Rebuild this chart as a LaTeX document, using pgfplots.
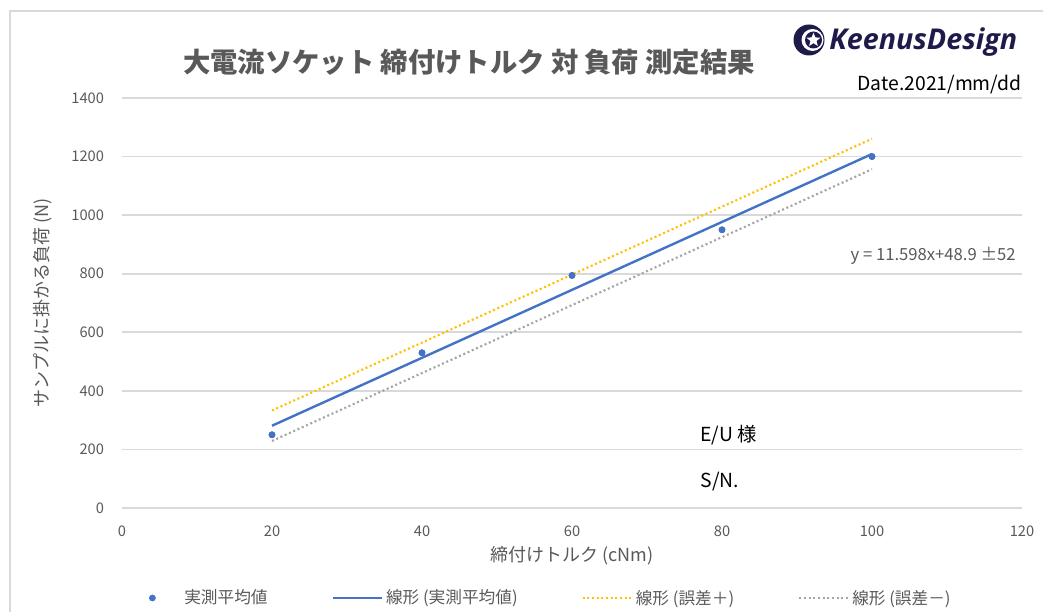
\documentclass[border=0pt]{standalone}
\usepackage{pgfplots}
\pgfplotsset{compat=1.18}
\usetikzlibrary{shapes.geometric}
\usepackage{fontspec}
\setmainfont{Noto Sans CJK JP}
\newfontfamily\logofont{Open Sans}
\definecolor{tgray}{HTML}{595959}
\definecolor{gridc}{HTML}{D9D9D9}
\definecolor{mblue}{HTML}{4472C4}
\definecolor{morange}{HTML}{FFC000}
\definecolor{mgray}{HTML}{A5A5A5}
\definecolor{navy}{HTML}{1E1B4B}
\pgfplotsset{longleg/.style={legend image code/.code={\draw[##1] (0cm,0cm) -- (1.3cm,0cm);}},
  markleg/.style={legend image code/.code={\draw[##1, only marks] plot coordinates {(0.08cm,0cm)}; \path[draw=none, fill=none] (0cm,0cm) -- (0.85cm,0cm);}}}
\begin{document}
\begin{tikzpicture}
\begin{scope}[x=0.75pt,y=0.75pt]
\useasboundingbox (0,0) rectangle (1043,610);
\draw[gridc, line width=1.2pt] (10,-10) -- (10,599) -- (1060,599);
\node[font=\bfseries\fontsize{20.5}{24}\selectfont, text=tgray] at (469,548) {大電流ソケット 締付けトルク 対 負荷 測定結果};
\fill[navy] (809,570) circle (15.5);
\fill[white] (812.5,570) circle (11);
\fill[navy] (813.5,570) circle (8.5);
\node[star, star points=5, star point ratio=2.3, fill=white, inner sep=0pt, minimum size=11pt] at (813.5,570) {};
\node[anchor=west, font=\logofont\bfseries\itshape\fontsize{21.5}{25}\selectfont, text=navy, inner sep=0pt] at (829,568) {KeenusDesign};
\node[anchor=east, font=\fontsize{14.5}{17}\selectfont, text=black, inner sep=0pt] at (1022,525) {Date.2021/mm/dd};
\end{scope}
\begin{axis}[
  at={(91.5pt,76.5pt)}, anchor=south west,
  scale only axis, width=675pt, height=307.5pt,
  xmin=0, xmax=120, ymin=0, ymax=1400,
  xtick={0,20,...,120}, ytick={0,200,...,1400},
  ymajorgrids=true, xmajorgrids=false,
  major grid style={draw=gridc, line width=1.2pt},
  axis line style={draw=none},
  major tick length=0pt,
  tick label style={font=\fontsize{11}{13}\selectfont, text=tgray},
  /pgf/number format/assume math mode=true,
  /pgf/number format/1000 sep={},
  yticklabel style={xshift=-10pt},
  xticklabel style={yshift=-10pt},
  xlabel={締付けトルク (cNm)},
  ylabel={サンプルに掛かる負荷 (N)},
  label style={font=\fontsize{13.5}{16}\selectfont, text=tgray},
  xlabel style={yshift=0pt},
  ylabel style={yshift=8pt},
  clip=false,
  legend columns=4,
  legend style={draw=none, fill=none, at={(0.477,-0.2195)}, anchor=center,
    font=\fontsize{12.5}{15}\selectfont, text=tgray,
    /tikz/every even column/.append style={column sep=46pt}},
]
\addplot[only marks, mark=*, mark size=2.3pt, color=mblue, markleg] coordinates {(20,250)(40,530)(60,794)(80,950)(100,1200)};
\addlegendentry{実測平均値}
\addplot[mblue, line width=1.8pt, longleg] coordinates {(20,280.86)(100,1208.7)};
\addlegendentry{線形 (実測平均値)}
\addplot[morange, line width=1.6pt, dash pattern=on 1.5pt off 2pt, longleg] coordinates {(20,332.86)(100,1260.7)};
\addlegendentry{線形 (誤差＋)}
\addplot[mgray, line width=1.6pt, dash pattern=on 1.5pt off 2pt, longleg] coordinates {(20,228.86)(100,1156.7)};
\addlegendentry{線形 (誤差－)}
\addplot[only marks, mark=*, mark size=2.3pt, color=mblue, forget plot] coordinates {(20,250)(40,530)(60,794)(80,950)(100,1200)};
\node[anchor=east, font=\fontsize{12.5}{15}\selectfont, text=tgray, inner sep=0pt] at (axis cs:119.2,862) {y = 11.598x+48.9 ±52};
\node[anchor=west, font=\fontsize{14.5}{17}\selectfont, text=black, inner sep=0pt] at (axis cs:77.1,249) {E/U 様};
\node[anchor=west, font=\fontsize{14.5}{17}\selectfont, text=black, inner sep=0pt] at (axis cs:77.1,89) {S/N.};
\end{axis}
\end{tikzpicture}
\end{document}
